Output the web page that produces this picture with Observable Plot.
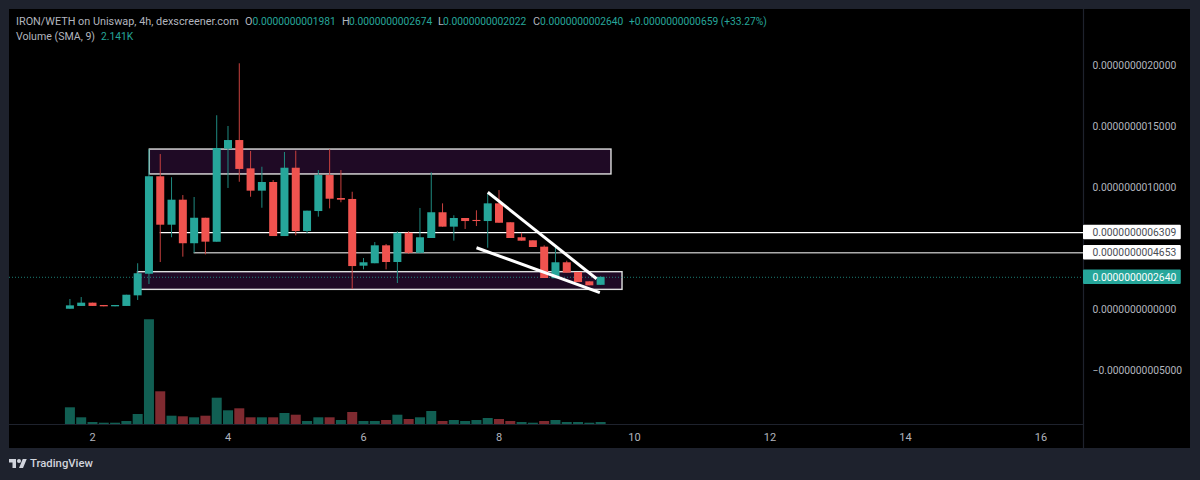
<!DOCTYPE html>
<html><head><meta charset="utf-8">
<script src="https://cdn.jsdelivr.net/npm/d3@7"></script>
<script src="https://cdn.jsdelivr.net/npm/@observablehq/plot@0.6"></script>
<style>
html,body{margin:0;padding:0;background:#1e222d}
#page{position:relative;width:1200px;height:480px;background:#1e222d;overflow:hidden;font-family:Roboto,sans-serif}
#panel{position:absolute;left:9px;top:9px;width:1181px;height:439px;background:#000}
#chart{position:absolute;left:0;top:0}
#chart svg{background:transparent!important}
.h{position:absolute;white-space:nowrap;font-size:10.6px;line-height:14px;color:#b2b5be}
.g{color:#26a69a;font-size:10.25px}
.t{font-size:10.85px}
#logo{position:absolute;left:9px;top:457px}
#brand{position:absolute;left:30px;top:456px;font-size:11.3px;line-height:16px;font-weight:500;color:#d1d4dc}
</style></head><body>
<div id="page"><div id="panel"></div><div id="chart"></div>
<svg id="logo" width="18" height="14" viewBox="0 0 36 28"><path fill="#d1d4dc" d="M14 22H7V11H0V4h14v18zM28 22h-8l7.5-18h8L28 22z"/><circle fill="#d1d4dc" cx="20" cy="8" r="4"/></svg>
<div id="brand">TradingView</div>
</div>
<script>
// Prices are in units of 1e-10
const unit = 1e-10;
const opens  = [0.02,0.25,0.52,0.33,0.22,0.25,1.12,2.89,10.88,6.91,8.96,5.39,7.48,5.52,13.14,13.85,11.53,9.70,10.41,5.98,11.58,6.39,8.03,10.98,9.10,9.02,3.55,3.75,5.22,3.85,6.25,4.61,5.82,7.93,6.75,7.46,7.30,7.21,8.66,7.11,5.88,5.63,5.11,2.52,3.83,3.03,2.27,1.981];
const closes = [0.30,0.52,0.25,0.22,0.33,1.17,2.93,10.88,6.91,8.96,5.39,7.48,5.52,13.20,13.85,11.48,9.70,10.41,5.98,11.58,6.39,8.06,10.98,9.04,8.96,3.52,3.83,5.22,3.85,6.25,4.61,5.88,7.93,6.75,7.46,7.21,7.21,8.66,7.07,5.82,5.60,5.08,2.54,3.83,2.98,2.21,1.94,2.640];
const highs  = [0.82,0.98,0.52,0.33,0.33,1.17,3.75,13.11,12.70,10.80,9.34,9.18,7.48,15.88,15.00,20.14,12.95,11.66,10.57,12.87,12.98,8.06,11.39,13.09,11.39,9.61,4.18,5.49,5.33,6.37,6.37,8.28,11.20,8.66,7.68,7.46,8.09,9.48,9.75,7.11,6.25,5.63,5.22,5.11,3.96,3.03,2.27,2.674];
const lows   = [0.02,0.25,0.25,0.22,0.22,0.25,0.74,2.05,3.85,5.88,4.29,4.61,4.48,5.52,9.92,10.43,9.20,8.30,5.98,5.98,6.04,6.20,7.57,8.25,8.75,1.64,3.25,3.75,3.25,2.13,4.51,4.57,5.82,6.75,5.60,6.56,6.80,5.02,7.07,5.82,5.60,5.08,2.54,2.52,2.98,2.21,1.94,1.981];
// Volume in thousands
const volumes  = [16.7,6.7,2,1.3,1.3,3,10,104.7,32.7,8.3,7.7,6.7,8.3,26.3,13.7,15.7,6.7,6.7,6.7,11,9.3,3,6.7,6.7,4,12,3,3,4,9.3,5,6.7,13,3,4,3,4,6,5,3,2,1.3,3,4,2,2,1.3,2];
const volumeUp = [1,1,1,1,1,1,1,1,0,1,0,1,0,1,1,0,0,1,0,1,0,1,1,0,1,0,1,1,0,1,0,1,1,0,1,1,1,1,0,0,1,1,0,1,1,1,1,1];
const firstCandleDay = 2 - 2 / 6, candleStep = 1 / 6;

const dayTicks = [2,4,6,8,10,12,14,16];
const priceTicks = [20,15,10,0,-5];
const levelValues = [6.309, 4.653];
const levelStartDays = [3.0, 3.5];
const lastPrice = 2.640;

const zoneDay1 = [2.846, 2.672], zoneDay2 = [9.66, 9.823];
const zoneLow = [11.07, 1.61], zoneHigh = [13.11, 3.06];

const trendDay1 = [7.835, 7.668], trendDay2 = [9.44, 9.488];
const trendPrice1 = [9.61, 5.06], trendPrice2 = [2.52, 1.39];

const headerLabel = "IRON/WETH on Uniswap, 4h, dexscreener.com";
const volumeLabel = "Volume (SMA, 9)", volumeValue = "2.141K";
const ohlcKeys = ["O","H","L","C"];
const ohlcValues = ["0.0000000001981","0.0000000002674","0.0000000002022","0.0000000002640"];
const changeText = "+0.0000000000659 (+33.27%)";

// Scale domains
const xMin = 0.775, xMax = 16.627, tagEnd = 18.07;
const yMin = -9.426, yMax = 24.59, panelBottom = -11.39;
const volumeToPrice = 1 / 12.2;

const fmt = v => (v < 0 ? "\u2212" : "") + (Math.abs(v) * unit).toFixed(13);
const candles = opens.map((o, i) => ({
  day: firstCandleDay + i * candleStep, o, c: closes[i], h: highs[i], l: lows[i],
  up: closes[i] >= o, vol: volumes[i], volUp: !!volumeUp[i]
}));
const UP = "#26a69a", DOWN = "#f0534f";
const zones = zoneLow.map((_, i) => ({x1: zoneDay1[i], x2: zoneDay2[i], y1: zoneLow[i], y2: zoneHigh[i]}));
const levels = levelValues.map((v, i) => ({v, start: levelStartDays[i]}));
const trends = trendDay1.map((_, i) => ({x1: trendDay1[i], x2: trendDay2[i], y1: trendPrice1[i], y2: trendPrice2[i]}));
const tags = [
  {v: levelValues[0], bg: "#ffffff", fg: "#4a4d55"},
  {v: levelValues[1], bg: "#ffffff", fg: "#4a4d55"},
  {v: lastPrice, bg: UP, fg: "#ffffff"}
];

const chart = Plot.plot({
  width: 1200, height: 480,
  marginLeft: 9, marginRight: 117, marginTop: 9, marginBottom: 56,
  x: {domain: [xMin, xMax]},
  y: {domain: [yMin, yMax]},
  style: {background: "transparent", fontFamily: "Roboto, sans-serif", fontSize: "10.3px"},
  marks: [
    Plot.ruleY([yMin], {stroke: "#1e222d", strokeWidth: 1.2}),
    Plot.ruleX([xMax], {y1: panelBottom, y2: yMax, stroke: "#1e222d", strokeWidth: 1.2}),
    Plot.axisY({ticks: priceTicks, tickFormat: fmt, anchor: "right", tickSize: 0, tickPadding: 9, label: null, color: "#b2b5be"}),
    Plot.axisX({ticks: dayTicks, tickFormat: d => String(d), anchor: "bottom", tickSize: 0, tickPadding: 9, label: null, color: "#b2b5be", fontSize: 11}),
    Plot.rect(zones, {x1: "x1", x2: "x2", y1: "y1", y2: "y2", fill: "#1f0a25", stroke: "#e0e0e0", strokeWidth: 1.4}),
    Plot.ruleY(levels.slice(0, 1), {y: "v", x1: "start", x2: xMax, stroke: "#ffffff", strokeWidth: 1.2}),
    Plot.ruleY(levels.slice(1), {y: "v", x1: "start", x2: xMax, stroke: "#ababab", strokeWidth: 1.5}),
    Plot.ruleY([lastPrice], {x1: xMin, x2: xMax, stroke: UP, strokeOpacity: 0.75, strokeWidth: 1, strokeDasharray: "1 2"}),
    Plot.ruleX(candles, {x: "day", y1: yMin, y2: d => yMin + d.vol * volumeToPrice, stroke: d => d.volUp ? "#115f53" : "#7f2a30", strokeWidth: 10}),
    Plot.ruleX(candles, {x: "day", y1: "l", y2: "h", stroke: d => d.up ? "#1f8a80" : "#c9413f", strokeWidth: 1}),
    Plot.ruleX(candles, {x: "day", y1: "o", y2: "c", stroke: d => d.up ? UP : DOWN, strokeWidth: 8}),
    Plot.link(trends, {x1: "x1", x2: "x2", y1: "y1", y2: "y2", stroke: "#ffffff", strokeWidth: 3}),
    Plot.rect(tags, {x1: xMax, x2: tagEnd, y1: d => d.v - 0.6, y2: d => d.v + 0.6, fill: "bg", rx: 1}),
    Plot.text(tags, {x: xMax, y: "v", text: d => fmt(d.v), textAnchor: "start", dx: 9, fill: "fg", fontSize: 10.3})
  ]
});
document.getElementById("chart").appendChild(chart);

// Legend rows above the plot area
const page = document.getElementById("page");
function put(text, left, top, cls) {
  const s = document.createElement("span");
  s.className = "h" + (cls ? " " + cls : "");
  s.textContent = text; s.style.left = left + "px"; s.style.top = top + "px";
  page.appendChild(s);
}
put(headerLabel, 16, 15, "t");
const keyLeft = [245, 342, 438, 533], valueLeft = [252.5, 349, 443, 540];
ohlcKeys.forEach((k, i) => { put(k, keyLeft[i], 15, "t"); put(ohlcValues[i], valueLeft[i], 15, "g"); });
put(changeText, 629, 15, "g");
put(volumeLabel, 16, 30);
put(volumeValue, 101, 30, "g");
</script>
</body></html>
